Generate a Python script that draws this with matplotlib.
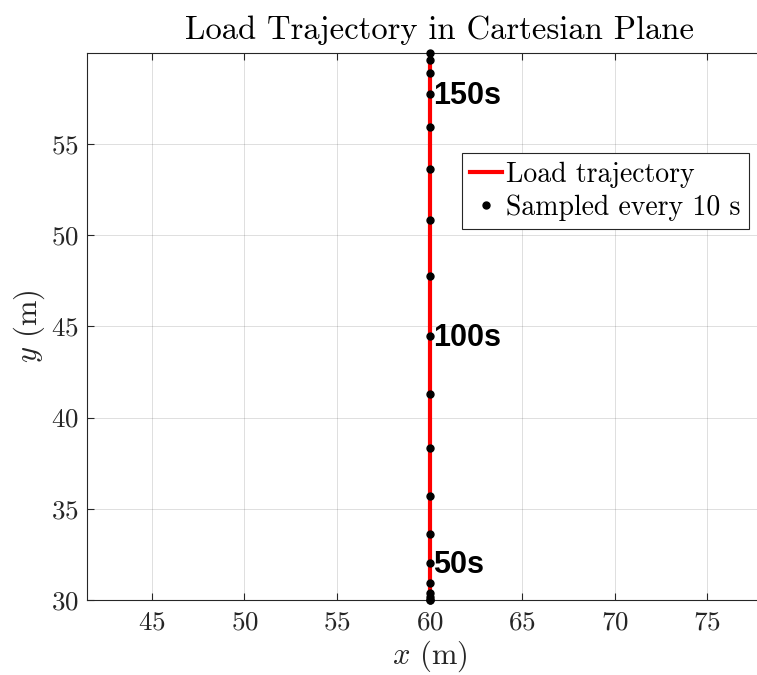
import matplotlib
matplotlib.use("Agg")
import matplotlib.pyplot as plt
import numpy as np

# sampled load position, one sample every 10 s
t_samples = [0, 10, 20, 30, 40, 50, 60, 70, 80, 90, 100, 110, 120, 130, 140, 150, 160, 170, 180]
x_samples = [60.0] * len(t_samples)
y_samples = [30.0, 30.02, 30.18, 30.37, 30.95, 32.01, 33.60, 35.72, 38.32, 41.31,
             44.49, 47.76, 50.83, 53.63, 55.92, 57.73, 58.91, 59.61, 59.97]

# times that get a text tag next to the point
tag_times = [50, 100, 150]

x_ticks = [45, 50, 55, 60, 65, 70, 75]
y_ticks = [30, 35, 40, 45, 50, 55]

plt.rcParams['font.family'] = 'serif'
plt.rcParams['font.serif'] = ['cmr10']
plt.rcParams['mathtext.fontset'] = 'cm'
plt.rcParams['axes.formatter.use_mathtext'] = True

axis_col = (0.15, 0.15, 0.15)

fig = plt.figure(figsize=(7.57, 6.75), dpi=100)
# axes runs a bit past the right edge of the figure
ax = fig.add_axes([87 / 757, 75 / 675, 685 / 757, 547 / 675])

ax.plot(x_samples, y_samples, color='red', lw=3, label='Load trajectory', zorder=3)
ax.plot(x_samples, y_samples, 'o', color='black', ms=5, ls='none',
        label='Sampled every 10 s', zorder=4, clip_on=False)

for t in tag_times:
    i = t_samples.index(t)
    ax.annotate(f'{t}s', (x_samples[i], y_samples[i]), xytext=(2.5, -1.5),
                textcoords='offset points', ha='left', va='center',
                fontsize=22, fontweight='bold', family='Liberation Sans',
                color='black', zorder=5)

ax.set_xlim(41.49, 78.51)
ax.set_ylim(30, 59.98)
ax.set_xticks(x_ticks)
ax.set_yticks(y_ticks)
ax.tick_params(direction='in', length=5, width=0.8, colors=axis_col,
               labelsize=19.5, top=True, right=True, labelcolor=axis_col)
ax.tick_params(axis='x', pad=8)
ax.tick_params(axis='y', pad=6)
for s in ax.spines.values():
    s.set_color(axis_col)
    s.set_linewidth(0.8)
ax.grid(True, color=(0.15, 0.15, 0.15), alpha=0.15, lw=0.7)
ax.set_axisbelow(True)

ax.set_xlabel(r'$x$ (m)', fontsize=22, color=axis_col, labelpad=3)
ax.set_ylabel(r'$y$ (m)', fontsize=22, color=axis_col, labelpad=3)
ax.set_title('Load Trajectory in Cartesian Plane', fontsize=23.5, color='black',
             x=(440 - 87) / 685, pad=10)

leg = ax.legend(loc='upper left', bbox_to_anchor=((462 - 87) / 685, 1 - (153 - 53) / 547),
                fontsize=20, frameon=True, fancybox=False, framealpha=1,
                edgecolor=axis_col, handlelength=1.15, handletextpad=0.15,
                borderpad=0.3, labelspacing=0.25, borderaxespad=0, markerscale=1)
leg.get_frame().set_linewidth(0.8)

fig.savefig('out.png', dpi=100)
